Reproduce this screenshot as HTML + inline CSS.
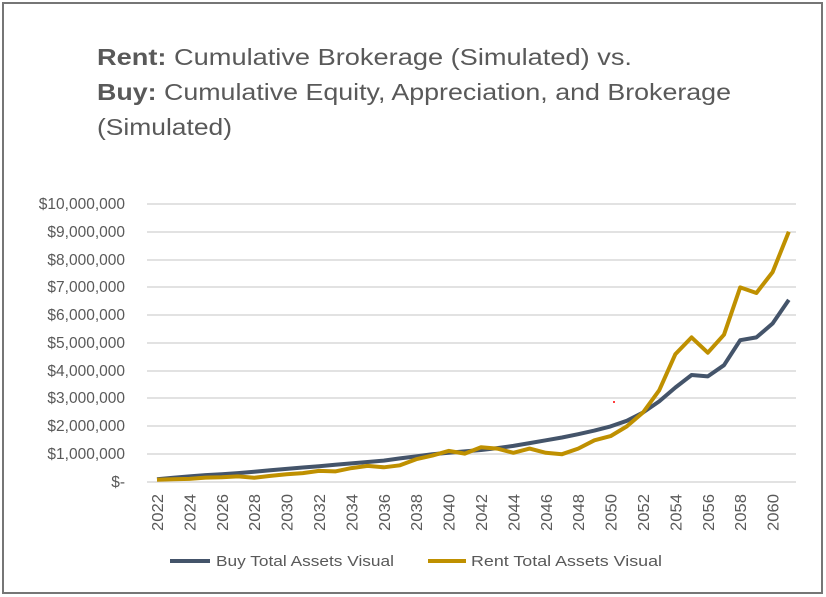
<!DOCTYPE html>
<html><head><meta charset="utf-8"><style>
html,body{margin:0;padding:0;background:#fff}
svg{display:block;font-family:"Liberation Sans",sans-serif}
</style></head><body>
<svg width="826" height="597" viewBox="0 0 826 597" xmlns="http://www.w3.org/2000/svg">
<rect x="3" y="3" width="819" height="590" fill="#fff" stroke="#767676" stroke-width="2"/>
<g fill="#595959" font-size="23">
<text x="97" y="65" textLength="535" lengthAdjust="spacingAndGlyphs"><tspan font-weight="bold">Rent:</tspan> Cumulative Brokerage (Simulated) vs.</text>
<text x="97" y="100" textLength="634" lengthAdjust="spacingAndGlyphs"><tspan font-weight="bold">Buy:</tspan> Cumulative Equity, Appreciation, and Brokerage</text>
<text x="97" y="135" textLength="135" lengthAdjust="spacingAndGlyphs">(Simulated)</text>
</g>
<g stroke="#d9d9d9" stroke-width="1.5">
<line x1="147" x2="796" y1="204" y2="204"/><line x1="147" x2="796" y1="232" y2="232"/>
<line x1="147" x2="796" y1="260" y2="260"/><line x1="147" x2="796" y1="287" y2="287"/>
<line x1="147" x2="796" y1="315" y2="315"/><line x1="147" x2="796" y1="343" y2="343"/>
<line x1="147" x2="796" y1="371" y2="371"/><line x1="147" x2="796" y1="398" y2="398"/>
<line x1="147" x2="796" y1="426" y2="426"/><line x1="147" x2="796" y1="454" y2="454"/>
<line x1="147" x2="796" y1="482" y2="482"/>
</g>
<g fill="#595959" font-size="15.5" text-anchor="end">
<text x="125" y="209">$10,000,000</text><text x="125" y="237">$9,000,000</text>
<text x="125" y="265">$8,000,000</text><text x="125" y="292">$7,000,000</text>
<text x="125" y="320">$6,000,000</text><text x="125" y="348">$5,000,000</text>
<text x="125" y="376">$4,000,000</text><text x="125" y="403">$3,000,000</text>
<text x="125" y="431">$2,000,000</text><text x="125" y="459">$1,000,000</text>
<text x="125" y="487">$-</text>
</g>
<g fill="#595959" font-size="16" text-anchor="end" id="xl"></g>
<polyline id="buy" fill="none" stroke="#44546a" stroke-width="4" stroke-linejoin="round"/>
<polyline id="rent" fill="none" stroke="#bf9000" stroke-width="4" stroke-linejoin="round"/>
<circle cx="614" cy="402" r="1" fill="#f00"/>
<line x1="170" x2="210" y1="561" y2="561" stroke="#44546a" stroke-width="4"/>
<text x="216" y="566" fill="#595959" font-size="15" textLength="178" lengthAdjust="spacingAndGlyphs">Buy Total Assets Visual</text>
<line x1="428" x2="466" y1="561" y2="561" stroke="#bf9000" stroke-width="4"/>
<text x="471" y="566" fill="#595959" font-size="15" textLength="191" lengthAdjust="spacingAndGlyphs">Rent Total Assets Visual</text>
</svg>
<script>
var buy=[0.1,0.15,0.2,0.25,0.28,0.32,0.37,0.42,0.47,0.52,0.57,0.62,0.67,0.72,0.77,0.85,0.92,1.0,1.05,1.1,1.15,1.22,1.3,1.4,1.5,1.6,1.72,1.85,2.0,2.2,2.5,2.9,3.4,3.85,3.8,4.2,5.1,5.2,5.7,6.55];
var rent=[0.08,0.1,0.11,0.16,0.17,0.2,0.15,0.22,0.28,0.32,0.4,0.38,0.5,0.58,0.53,0.6,0.82,0.95,1.12,1.02,1.25,1.2,1.05,1.2,1.05,1.0,1.2,1.5,1.65,2.0,2.5,3.3,4.6,5.2,4.65,5.3,7.0,6.8,7.55,9.0];
function X(i){return 157+i*16.2}function Y(v){return 482-v*27.8}
function pts(a){return a.map(function(v,i){return X(i).toFixed(1)+","+Y(v).toFixed(1)}).join(" ")}
document.getElementById("buy").setAttribute("points",pts(buy));
document.getElementById("rent").setAttribute("points",pts(rent));
var g=document.getElementById("xl"),ns="http://www.w3.org/2000/svg";
for(var i=0;i<40;i+=2){var t=document.createElementNS(ns,"text");var x=X(i)+6;
t.setAttribute("x",x);t.setAttribute("y",494);t.setAttribute("transform","rotate(-90 "+x+" 494)");
t.setAttribute("textLength","37");t.setAttribute("lengthAdjust","spacingAndGlyphs");
t.textContent=2022+i;g.appendChild(t);}
</script>
</body></html>
